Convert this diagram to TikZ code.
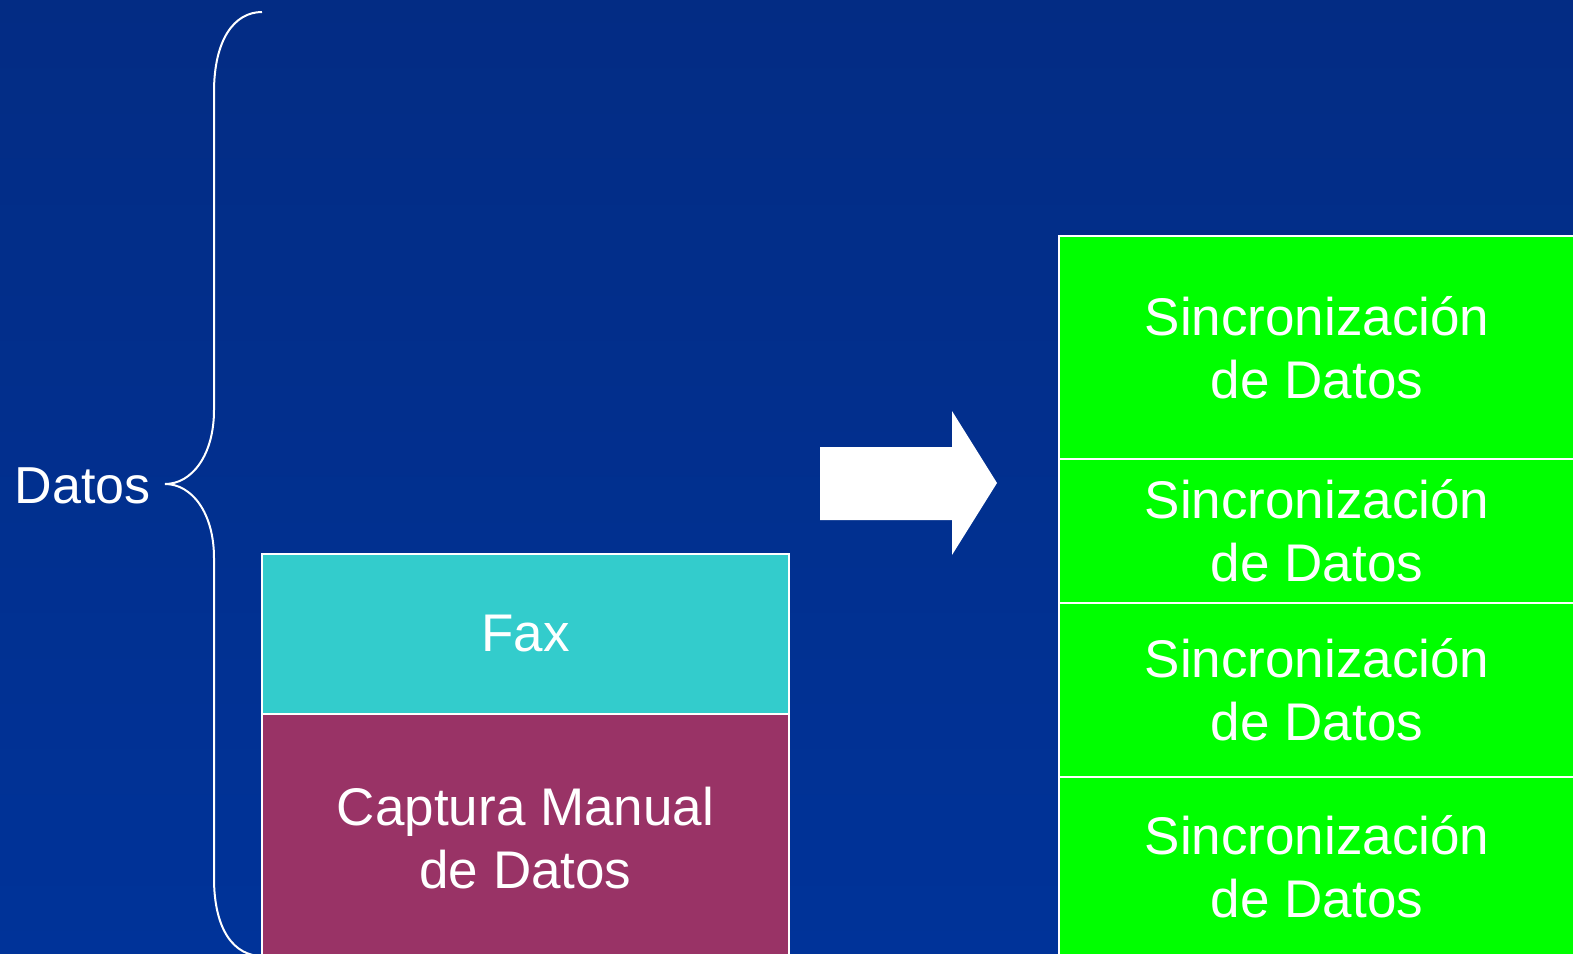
\documentclass[tikz,border=0pt]{standalone}
\usepackage{fontspec}
\setmainfont{Liberation Sans}
\usetikzlibrary{positioning}

\definecolor{bgtop}{RGB}{3,44,132}
\definecolor{bgbot}{RGB}{0,51,153}
\definecolor{faxcol}{RGB}{51,204,204}
\definecolor{capcol}{RGB}{153,51,102}
\definecolor{syncol}{RGB}{0,255,0}

\begin{document}
\begin{tikzpicture}[x=1bp, y=-1bp, node distance=0pt,
  box/.style = {draw=white, line width=1.5bp, inner sep=0pt, outer sep=0pt, text=white, align=center, font=\fontsize{53bp}{63bp}\selectfont},
  sync/.style = {box, fill=syncol, minimum width=516bp}]
\useasboundingbox (0,0) rectangle (1573,953);
\clip (0,0) rectangle (1573,953);
\shade[top color=bgtop, bottom color=bgbot] (0,0) rectangle (1573,953);

% brace
\node[text=white, font=\fontsize{52bp}{62bp}\selectfont, anchor=east, inner sep=0pt] (datos) at (151,486) {Datos};
\draw[white, line width=2bp] (262,12) .. controls (234,12) and (214,40) .. (214,92) -- (214,410)
  .. controls (214,455) and (192,484) .. (165,484)
  .. controls (192,484) and (214,513) .. (214,558) -- (214,878)
  .. controls (214,930) and (234,956) .. (262,956);

% left stack
\node[box, fill=faxcol, minimum width=527bp, minimum height=160bp, anchor=north west] (fax) at (262,554) {Fax};
\node[box, fill=capcol, minimum width=527bp, minimum height=248bp, below=of fax] (captura) {Captura Manual\\de Datos};

% arrow
\fill[white] (820,447) -- (952,447) -- (952,411) -- (997,483) -- (952,555) -- (952,520) -- (820,520) -- cycle;

% right stack
\node[sync, minimum height=223bp, anchor=north west] (s1) at (1059,236) {Sincronización\\de Datos};
\node[sync, minimum height=144bp, below=of s1] (s2) {Sincronización\\de Datos};
\node[sync, minimum height=174bp, below=of s2] (s3) {Sincronización\\de Datos};
\node[sync, minimum height=180bp, below=of s3] (s4) {Sincronización\\de Datos};
\end{tikzpicture}
\end{document}
